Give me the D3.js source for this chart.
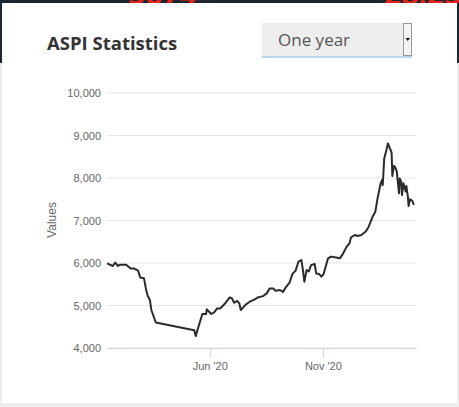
<!DOCTYPE html>
<html>
<head>
<meta charset="utf-8">
<script src="https://cdn.jsdelivr.net/npm/d3@7"></script>
<style>
  body { margin: 0; background: #ececf0; }
  svg { display: block; }
</style>
</head>
<body>
<div id="chart"></div>
<script>
// ASPI closing values
const dates = [
  "2020-01-14", "2020-01-22", "2020-01-25", "2020-01-29", "2020-01-31", "2020-02-09",
  "2020-02-15", "2020-02-20", "2020-02-25", "2020-02-28", "2020-03-04", "2020-03-07",
  "2020-03-09", "2020-03-12", "2020-03-14", "2020-03-20", "2020-05-11", "2020-05-13",
  "2020-05-16", "2020-05-22", "2020-05-27", "2020-05-28", "2020-06-03", "2020-06-07",
  "2020-06-11", "2020-06-15", "2020-06-21", "2020-06-28", "2020-07-01", "2020-07-04",
  "2020-07-08", "2020-07-11", "2020-07-13", "2020-07-19", "2020-07-25", "2020-08-01",
  "2020-08-05", "2020-08-12", "2020-08-17", "2020-08-21", "2020-08-26", "2020-08-29",
  "2020-09-04", "2020-09-08", "2020-09-12", "2020-09-17", "2020-09-21", "2020-09-25",
  "2020-09-29", "2020-10-03", "2020-10-05", "2020-10-07", "2020-10-10", "2020-10-13",
  "2020-10-16", "2020-10-21", "2020-10-23", "2020-10-27", "2020-10-30", "2020-11-02",
  "2020-11-08", "2020-11-12", "2020-11-19", "2020-11-24", "2020-11-28", "2020-12-03",
  "2020-12-07", "2020-12-09", "2020-12-14", "2020-12-18", "2020-12-23", "2020-12-29",
  "2021-01-02", "2021-01-07", "2021-01-11", "2021-01-14", "2021-01-18", "2021-01-20",
  "2021-01-21", "2021-01-23", "2021-01-26", "2021-01-28", "2021-02-02", "2021-02-03",
  "2021-02-05", "2021-02-07", "2021-02-09", "2021-02-12", "2021-02-13", "2021-02-15",
  "2021-02-16", "2021-02-18", "2021-02-21", "2021-02-22", "2021-02-24", "2021-02-25",
  "2021-02-27", "2021-03-02", "2021-03-04"
];
const values = [
  5990, 5930, 6010, 5930, 5960, 5960,
  5870, 5870, 5820, 5660, 5640, 5365,
  5230, 5130, 4895, 4600, 4420, 4280,
  4460, 4800, 4800, 4910, 4800, 4840,
  4930, 4930, 5035, 5190, 5170, 5065,
  5110, 5050, 4895, 5010, 5090, 5145,
  5190, 5220, 5285, 5400, 5400, 5345,
  5365, 5320, 5430, 5540, 5750, 5815,
  6030, 6070, 5835, 5560, 5835, 5800,
  5950, 5975, 5755, 5740, 5680, 5740,
  6110, 6150, 6130, 6110, 6210, 6380,
  6460, 6600, 6660, 6635, 6660, 6740,
  6855, 7075, 7210, 7520, 7860, 7950,
  7835, 8460, 8660, 8815, 8595, 8045,
  8280, 8250, 8150, 7640, 7990, 7915,
  7600, 7875, 7680, 7810, 7560, 7340,
  7500, 7465, 7365
];
const yTicks = [4000, 5000, 6000, 7000, 8000, 9000, 10000];
const xTicks = ["2020-06-01", "2020-11-01"];
const xDomain = ["2020-01-14", "2021-03-07"];

const parse = d3.timeParse("%Y-%m-%d");
const data = dates.map((d, i) => ({date: parse(d), value: values[i]}));

const W = 459, H = 407;
const svg = d3.select("#chart").append("svg")
  .attr("width", W).attr("height", H);

// page background bits around the card
svg.append("rect").attr("x", 0).attr("y", 0).attr("width", W).attr("height", 63).attr("fill", "#1c2530");
svg.append("rect").attr("x", 0).attr("y", 400).attr("width", W).attr("height", 7).attr("fill", "#eeeeee");
svg.append("text").attr("x", 128).attr("y", 5)
  .attr("font-family", "Open Sans").attr("font-weight", 700).attr("font-size", 30)
  .attr("fill", "#e3241b").text("5674");
svg.append("text").attr("x", 384).attr("y", 5)
  .attr("font-family", "Open Sans").attr("font-weight", 700).attr("font-size", 30)
  .attr("fill", "#e3241b").text("28.25");
svg.append("rect").attr("x", 2).attr("y", 3).attr("width", 455).attr("height", 400).attr("fill", "#ffffff");

// header
svg.append("text").attr("x", 47).attr("y", 50)
  .attr("font-family", "Open Sans").attr("font-weight", 700).attr("font-size", 18.5)
  .attr("fill", "#333333").text("ASPI Statistics");

const sel = svg.append("g").attr("transform", "translate(262,23)");
sel.append("rect").attr("width", 150).attr("height", 33).attr("fill", "#eeeeee");
sel.append("rect").attr("y", 33).attr("width", 150).attr("height", 2).attr("fill", "#b7d5f0");
sel.append("rect").attr("x", 141.5).attr("y", 0.5).attr("width", 8).attr("height", 32)
  .attr("fill", "#f4f4f4").attr("stroke", "#9a9a9a");
sel.append("path").attr("d", "M143.5,15 L148,15 L145.75,18 Z").attr("fill", "#111");
sel.append("text").attr("x", 16).attr("y", 23)
  .attr("font-family", "Open Sans").attr("font-size", 17)
  .attr("fill", "#555555").text("One year");

// chart
const x = d3.scaleTime().domain(xDomain.map(parse)).range([107, 416]);
const y = d3.scaleLinear().domain([4000, 10000]).range([348, 93]);

svg.append("g")
  .selectAll("line").data(yTicks).join("line")
  .attr("x1", 107).attr("x2", 416)
  .attr("y1", d => y(d)).attr("y2", d => y(d))
  .attr("stroke", "#e6e6e6");

const yAxis = svg.append("g").attr("transform", "translate(101,0)")
  .call(d3.axisLeft(y).tickValues(yTicks).tickFormat(d3.format(",")).tickSize(0).tickPadding(0));
yAxis.select(".domain").remove();
yAxis.selectAll("text").attr("font-family", "Liberation Sans, Arial, sans-serif")
  .attr("font-size", 11).attr("fill", "#666666");

const xAxis = svg.append("g").attr("transform", "translate(0,348)")
  .call(d3.axisBottom(x).tickValues(xTicks.map(parse)).tickFormat(d3.timeFormat("%b '%y"))
    .tickSizeInner(10).tickSizeOuter(0).tickPadding(4));
xAxis.select(".domain").attr("stroke", "#ccd6eb");
xAxis.selectAll(".tick line").attr("stroke", "#ccd6eb");
xAxis.selectAll("text").attr("font-family", "Liberation Sans, Arial, sans-serif")
  .attr("font-size", 11).attr("fill", "#666666");

svg.append("text")
  .attr("transform", "translate(56,220) rotate(-90)")
  .attr("text-anchor", "middle")
  .attr("font-family", "Liberation Sans, Arial, sans-serif").attr("font-size", 12)
  .attr("fill", "#666666").text("Values");

svg.append("path")
  .datum(data)
  .attr("fill", "none")
  .attr("stroke", "#2b2b2b")
  .attr("stroke-width", 2)
  .attr("stroke-linejoin", "round")
  .attr("d", d3.line().x(d => x(d.date)).y(d => y(d.value)));
</script>
</body>
</html>
